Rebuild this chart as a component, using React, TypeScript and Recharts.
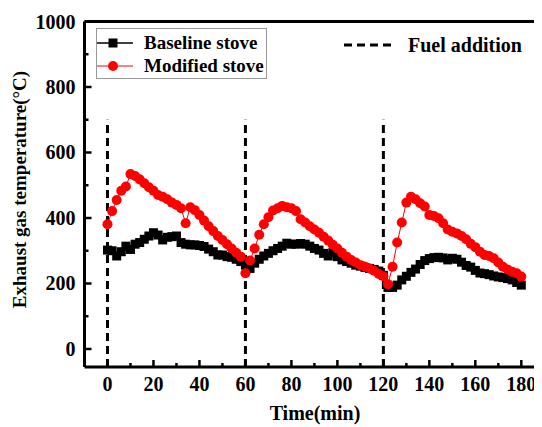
import {
  LineChart,
  Line,
  XAxis,
  YAxis,
  ReferenceLine,
  Legend,
} from "recharts";

const time = [
  0, 2, 4, 6, 8, 10, 12, 14, 16, 18, 20, 22, 24, 26, 28, 30, 32, 34, 36, 38,
  40, 42, 44, 46, 48, 50, 52, 54, 56, 58, 60, 62, 64, 66, 68, 70, 72, 74, 76,
  78, 80, 82, 84, 86, 88, 90, 92, 94, 96, 98, 100, 102, 104, 106, 108, 110,
  112, 114, 116, 118, 120, 122, 124, 126, 128, 130, 132, 134, 136, 138, 140,
  142, 144, 146, 148, 150, 152, 154, 156, 158, 160, 162, 164, 166, 168, 170,
  172, 174, 176, 178, 180,
];

const baseline = [
  302, 300, 284, 297, 314, 304, 320, 325, 335, 345, 355, 348, 333, 341, 343,
  345, 325, 320, 318, 318, 316, 313, 305, 297, 287, 287, 282, 280, 274, 267,
  256, 246, 262, 274, 284, 292, 300, 307, 314, 323, 320, 320, 322, 320, 314,
  307, 302, 292, 284, 294, 282, 272, 267, 262, 256, 253, 249, 246, 243, 238,
  225, 188, 188, 195, 211, 222, 234, 244, 258, 270, 276, 279, 280, 278, 272,
  277, 274, 265, 255, 250, 240, 232, 230, 227, 223, 220, 218, 215, 211, 203,
  195,
];

const modified = [
  381, 421, 455, 483, 496, 534, 528, 518, 506, 494, 483, 470, 465, 457, 447,
  440, 430, 384, 433, 424, 409, 392, 375, 360, 345, 333, 320, 307, 294, 282,
  231, 270, 307, 349, 381, 402, 423, 430, 437, 433, 430, 421, 396, 386, 375,
  365, 355, 343, 331, 318, 307, 294, 282, 272, 264, 256, 251, 246, 239, 229,
  222, 198, 251, 325, 386, 447, 465, 457, 445, 435, 409, 406, 399, 384, 365,
  358, 353, 345, 335, 321, 311, 297, 287, 284, 277, 264, 251, 243, 236, 231,
  221,
];

const xTicks = [0, 10, 20, 30, 40, 50, 60, 70, 80, 90, 100, 110, 120, 130, 140, 150, 160, 170, 180];
const yTicks = [0, 100, 200, 300, 400, 500, 600, 700, 800, 900, 1000];
const fuelTimes = [0, 60, 120];

const data = time.map((t, i) => ({ t, baseline: baseline[i], modified: modified[i] }));

const FONT = "'Liberation Serif', 'Times New Roman', serif";

const XTick = ({ x, y, payload }: any) => {
  const major = payload.value % 20 === 0;
  return (
    <g>
      <line x1={x} x2={x} y1={y} y2={y - (major ? 7 : 4)} stroke="#000" strokeWidth={2.5} />
      {major && (
        <text x={x} y={y + 24} textAnchor="middle" fontSize={20} fontWeight="bold" fill="#000" fontFamily={FONT}>
          {payload.value}
        </text>
      )}
    </g>
  );
};

const YTick = ({ x, y, payload }: any) => {
  const major = payload.value % 200 === 0;
  return (
    <g>
      <line x1={x} x2={x + (major ? 7 : 4)} y1={y} y2={y} stroke="#000" strokeWidth={2.5} />
      {major && (
        <text x={x - 9} y={y + 7} textAnchor="end" fontSize={20} fontWeight="bold" fill="#000" fontFamily={FONT}>
          {payload.value}
        </text>
      )}
    </g>
  );
};

// axis titles, placed where the reference has them
const XTitle = () => (
  <text x={307} y={412} textAnchor="middle" fontSize={20} fontWeight="bold" fill="#000" fontFamily={FONT}>
    Time(min)
  </text>
);

const YTitle = () => (
  <text
    transform="translate(18,181.5) rotate(-90)"
    textAnchor="middle"
    fontSize={19}
    fontWeight="bold"
    fill="#000"
    fontFamily={FONT}
  >
    Exhaust gas temperature(°C)
  </text>
);

const Square = (p: any) => (
  <rect key={`sq-${p.index}`} x={p.cx - 4.5} y={p.cy - 4.5} width={9} height={9} fill="#000" />
);

const LegendBox = () => (
  <div style={{ position: "relative", width: 534, height: 90, fontFamily: FONT }}>
    <svg width={534} height={90} style={{ position: "absolute", left: 0, top: 0 }}>
      <rect x={88.5} y={20.5} width={170} height={50} fill="#fff" stroke="#999" strokeWidth={1} />
      <line x1={89} x2={125} y1={35} y2={35} stroke="#000" strokeWidth={1.5} />
      <rect x={100.5} y={30.5} width={9} height={9} fill="#000" />
      <text x={136} y={41} fontSize={19} fontWeight="bold" fill="#000">Baseline stove</text>
      <line x1={89} x2={125} y1={58} y2={58} stroke="red" strokeWidth={1} />
      <circle cx={105} cy={58} r={5} fill="red" />
      <text x={136} y={64} fontSize={19} fontWeight="bold" fill="#000">Modified stove</text>
      <line x1={336} x2={388} y1={37} y2={37} stroke="#000" strokeWidth={3} strokeDasharray="8 5" />
      <text x={400} y={44} fontSize={20} fontWeight="bold" fill="#000">Fuel addition</text>
    </svg>
  </div>
);

export default function App() {
  return (
    <div style={{ width: 534, height: 419, fontFamily: FONT }}>
      <LineChart width={534} height={419} data={data} margin={{ top: 13.5, right: 0, bottom: 0, left: 0 }}>
        <XAxis
          dataKey="t"
          type="number"
          domain={[-10, 189]}
          allowDataOverflow
          ticks={xTicks}
          interval={0}
          height={60}
          tickSize={0}
          tickMargin={0}
          tickLine={false}
          axisLine={{ stroke: "#000", strokeWidth: 3 }}
          tick={<XTick />}
          label={<XTitle />}
        />
        <YAxis
          type="number"
          domain={[-55, 1000]}
          allowDataOverflow
          ticks={yTicks}
          interval={0}
          width={76.5}
          tickSize={0}
          tickMargin={0}
          tickLine={false}
          axisLine={{ stroke: "#000", strokeWidth: 3 }}
          tick={<YTick />}
          label={<YTitle />}
        />
        <ReferenceLine y={1000} stroke="#000" strokeWidth={3} />
        {fuelTimes.map((ft) => (
          <ReferenceLine
            key={ft}
            segment={[{ x: ft, y: -55 }, { x: ft, y: 700 }]}
            stroke="#000"
            strokeWidth={3}
            strokeDasharray="8 5"
          />
        ))}
        <Line
          dataKey="baseline"
          type="linear"
          stroke="#000"
          strokeWidth={1.5}
          dot={Square}
          activeDot={false}
          isAnimationActive={false}
        />
        <Line
          dataKey="modified"
          type="linear"
          stroke="red"
          strokeWidth={1}
          dot={{ r: 5, fill: "red", stroke: "red", strokeWidth: 0 }}
          activeDot={false}
          isAnimationActive={false}
        />
        <Legend
          layout="vertical"
          align="center"
          verticalAlign="middle"
          content={<LegendBox />}
          wrapperStyle={{ left: 0, top: 0, width: 534, height: 90 }}
        />
      </LineChart>
    </div>
  );
}
